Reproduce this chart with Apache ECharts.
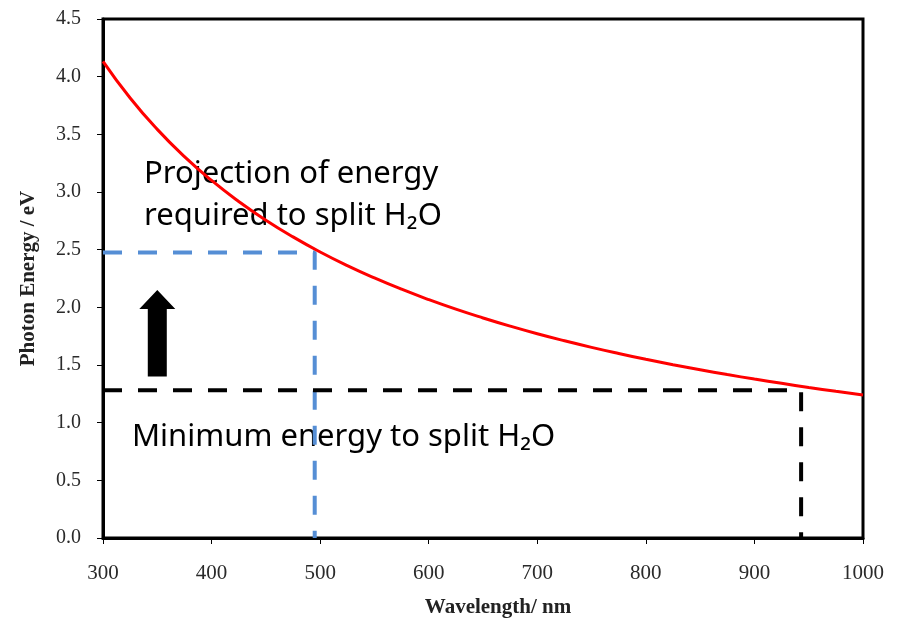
<!DOCTYPE html>
<html><head><meta charset="utf-8">
<script src="https://cdn.jsdelivr.net/npm/echarts@6/dist/echarts.min.js"></script>
<style>html,body{margin:0;padding:0;background:#fff}#c{width:905px;height:623px}</style>
</head><body><div id="c"></div>
<script>
const wavelengths = [300,325,350,375,400,425,450,475,500,525,550,575,600,625,650,675,700,725,750,775,800,825,850,875,900,925,950,975,1000];
const energies = [4.133,3.815,3.543,3.307,3.100,2.918,2.756,2.611,2.480,2.362,2.255,2.157,2.067,1.984,1.908,1.837,1.771,1.710,1.653,1.600,1.550,1.503,1.459,1.417,1.378,1.341,1.305,1.272,1.240];
const blueGuide = [[300,2.475],[495,2.475],[495,0]];
const blackGuide = [[300,1.28],[943,1.28],[943,0]];
const arrowData = [[350,1.40,2.15]];
const xTicks = {min:300,max:1000,interval:100};
const yTicks = {min:0,max:4.5,interval:0.5};

const chart = echarts.init(document.getElementById('c'));
const serif = 'Liberation Serif';
chart.setOption({
  animation:false,
  grid:{left:103,right:42,top:19,bottom:84,show:true,borderColor:'#000',borderWidth:3,backgroundColor:'transparent'},
  xAxis:{type:'value',min:xTicks.min,max:xTicks.max,interval:xTicks.interval,
    name:'Wavelength/ nm',nameLocation:'middle',nameGap:59,
    nameTextStyle:{fontFamily:serif,fontWeight:'bold',fontSize:21,color:'#222',padding:[0,0,0,30]},
    axisLine:{lineStyle:{color:'#000',width:3}},
    axisTick:{show:true,length:6,lineStyle:{color:'#000',width:1}},
    axisLabel:{fontFamily:serif,fontSize:21,color:'#2a2a2a',margin:25,formatter:v=>String(v)},
    splitLine:{show:false}},
  yAxis:{type:'value',min:yTicks.min,max:yTicks.max,interval:yTicks.interval,
    name:'Photon Energy / eV',nameLocation:'middle',nameGap:64,
    nameTextStyle:{fontFamily:serif,fontWeight:'bold',fontSize:21,color:'#222'},
    axisLine:{lineStyle:{color:'#000',width:3}},
    axisTick:{show:true,length:6,lineStyle:{color:'#000',width:1}},
    axisLabel:{fontFamily:serif,fontSize:20,color:'#2a2a2a',margin:22,formatter:v=>v.toFixed(1)},
    splitLine:{show:false}},
  series:[
    {type:'line',data:blueGuide,symbol:'none',silent:true,
     lineStyle:{color:'#558ed5',width:4,type:[19,16]}},
    {type:'line',data:blackGuide,symbol:'none',silent:true,
     lineStyle:{color:'#000',width:4,type:[19,16]}},
    {type:'line',data:wavelengths.map((w,i)=>[w,energies[i]]),symbol:'none',smooth:0.5,
     lineStyle:{color:'#ff0000',width:3},z:5},
    {type:'custom',data:arrowData,z:6,
     renderItem:(params,api)=>{
       const base=api.coord([api.value(0),api.value(1)]);
       const tip=api.coord([api.value(0),api.value(2)]);
       const cx=base[0], hw=18, bw=9.5, hh=19;
       const pts=[[cx-bw,base[1]],[cx+bw,base[1]],[cx+bw,tip[1]+hh],[cx+hw,tip[1]+hh],[cx,tip[1]],[cx-hw,tip[1]+hh],[cx-bw,tip[1]+hh]];
       return {type:'polygon',shape:{points:pts},style:{fill:'#000'}};
     }}
  ],
  graphic:[
    {type:'text',left:144,top:153,style:{text:'Projection of energy\nrequired to split H\u2082O',fontFamily:'Noto Sans',fontSize:31,lineHeight:42,fill:'#000'}},
    {type:'text',left:132,top:422,style:{text:'Minimum energy to split H\u2082O',fontFamily:'Noto Sans',fontSize:31,fill:'#000'}}
  ]
});
</script></body></html>
